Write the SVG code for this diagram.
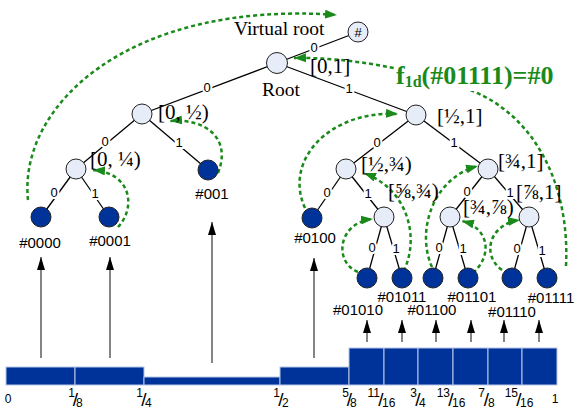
<svg xmlns="http://www.w3.org/2000/svg" width="578" height="414" viewBox="0 0 578 414">
<style>
.edge{stroke:#000;stroke-width:1.3;fill:none}
.inner{fill:#e6ecf8;stroke:#222;stroke-width:1}
.leaf{fill:#003399;stroke:#222;stroke-width:1}
.gc{fill:none;stroke:#1a8a1a;stroke-width:2.5;stroke-dasharray:4 3;marker-end:url(#ga)}
.up{stroke:#333;stroke-width:1.2;marker-end:url(#ah)}
.el{font-family:"Liberation Sans",Arial,sans-serif;font-size:13px;text-anchor:middle;fill:#000;stroke:#fff;stroke-width:4;paint-order:stroke}
.iv{font-family:"Liberation Serif","Times New Roman",serif;font-size:21px;fill:#000}
.tl{font-family:"Liberation Serif","Times New Roman",serif;font-size:19.5px;fill:#000}
.ll{font-family:"Liberation Sans",Arial,sans-serif;font-size:15px;text-anchor:middle;fill:#000}
.bar{fill:#003399;stroke:#b8c8e8;stroke-width:1}
.fr{font-family:"Liberation Sans",Arial,sans-serif;font-size:12px;fill:#000}
.sl{font-size:19px}
</style>
<defs>
<marker id="ah" markerUnits="userSpaceOnUse" markerWidth="13" markerHeight="8" refX="13" refY="4" orient="auto"><path d="M0,0 L13,4 L0,8 z" fill="#000"/></marker>
<marker id="ga" markerUnits="userSpaceOnUse" markerWidth="12" markerHeight="9" refX="12" refY="4.5" orient="auto"><path d="M0,0 L12,4.5 L0,9 z" fill="#1a8a1a"/></marker>
</defs>
<rect width="578" height="414" fill="#fff"/>

<g id="connectors">
<line class="edge" x1="277" y1="63" x2="358" y2="32"/>
<line class="edge" x1="277" y1="63" x2="142" y2="114"/>
<line class="edge" x1="277" y1="63" x2="416" y2="115"/>
<line class="edge" x1="142" y1="114" x2="76" y2="169"/>
<line class="edge" x1="142" y1="114" x2="208" y2="170"/>
<line class="edge" x1="76" y1="169" x2="41" y2="217"/>
<line class="edge" x1="76" y1="169" x2="109" y2="217"/>
<line class="edge" x1="416" y1="115" x2="346" y2="169"/>
<line class="edge" x1="416" y1="115" x2="488" y2="169"/>
<line class="edge" x1="346" y1="169" x2="312" y2="218"/>
<line class="edge" x1="346" y1="169" x2="384" y2="217"/>
<line class="edge" x1="488" y1="169" x2="450" y2="217"/>
<line class="edge" x1="488" y1="169" x2="529" y2="217"/>
<line class="edge" x1="384" y1="217" x2="367" y2="278"/>
<line class="edge" x1="384" y1="217" x2="402" y2="278"/>
<line class="edge" x1="450" y1="217" x2="433" y2="278"/>
<line class="edge" x1="450" y1="217" x2="468" y2="278"/>
<line class="edge" x1="529" y1="217" x2="512" y2="278"/>
<line class="edge" x1="529" y1="217" x2="547" y2="278"/>
<text class="el" x="314" y="52">0</text>
<text class="el" x="207" y="92">0</text>
<text class="el" x="349" y="93">1</text>
<text class="el" x="105" y="146">0</text>
<text class="el" x="179" y="147">1</text>
<text class="el" x="54" y="197">0</text>
<text class="el" x="95" y="198">1</text>
<text class="el" x="377" y="147">0</text>
<text class="el" x="454" y="147">1</text>
<text class="el" x="327" y="197">0</text>
<text class="el" x="368" y="198">1</text>
<text class="el" x="467" y="196">0</text>
<text class="el" x="510" y="197">1</text>
<text class="el" x="372" y="252">0</text>
<text class="el" x="396" y="253">1</text>
<text class="el" x="439" y="252">0</text>
<text class="el" x="463" y="253">1</text>
<text class="el" x="517" y="253">0</text>
<text class="el" x="542" y="255">1</text>
<line class="up" x1="41" y1="358" x2="41" y2="257"/>
<line class="up" x1="110" y1="358" x2="110" y2="257"/>
<line class="up" x1="212" y1="363" x2="212" y2="222"/>
<line class="up" x1="314" y1="358" x2="314" y2="258"/>
<line class="up" x1="367" y1="342" x2="367" y2="320"/>
<line class="up" x1="402" y1="342" x2="402" y2="320"/>
<line class="up" x1="436" y1="342" x2="436" y2="320"/>
<line class="up" x1="471" y1="342" x2="471" y2="320"/>
<line class="up" x1="504" y1="342" x2="504" y2="320"/>
<line class="up" x1="539" y1="342" x2="539" y2="320"/>
<path class="gc" d="M28,200 C18,105 130,0 337,15"/>
<path class="gc" d="M118,227 C136,208 132,173 93,170"/>
<path class="gc" d="M218,173 C232,138 205,118 170,121"/>
<path class="gc" d="M305,208 C283,160 330,110 398,114"/>
<path class="gc" d="M358,272 C333,262 338,222 373,219"/>
<path class="gc" d="M400,277 C420,248 414,192 364,173"/>
<path class="gc" d="M432,267 C416,232 432,178 478,166"/>
<path class="gc" d="M473,273 C493,255 489,228 462,221"/>
<path class="gc" d="M502,270 C481,255 489,224 520,220"/>
<path class="gc" d="M566,266 C570,185 535,115 470,90 C430,74 360,57 294,58"/>
</g>

<g id="f1d-label">
<rect x="394" y="60" width="164" height="31" fill="#fff"/>
<text x="396" y="84" font-family="Liberation Serif,'Times New Roman',serif" font-weight="bold" font-size="26" fill="#1a8a1a">f<tspan font-size="16" dy="3">1d</tspan><tspan dy="-3">(#01111)=#0</tspan></text>
</g>

<g id="vroot"><circle class="inner" cx="358" cy="32" r="10"/><text x="358" y="37" font-family="Liberation Sans,Arial,sans-serif" font-size="13" text-anchor="middle">#</text><text class="tl" x="234" y="35">Virtual root</text></g>
<g id="root"><circle class="inner" cx="277" cy="63" r="10.5"/><text class="tl" x="262" y="96">Root</text><text class="iv" x="310" y="73">[0,1]</text></g>
<g id="n0"><circle class="inner" cx="142" cy="114" r="10"/><text class="iv" x="158" y="119">[0, ½)</text></g>
<g id="n00"><circle class="inner" cx="76" cy="169" r="10"/><text class="iv" x="90" y="166">[0, ¼)</text></g>
<g id="l0000"><circle class="leaf" cx="41" cy="217" r="10"/><text class="ll" x="40" y="248">#0000</text></g>
<g id="l0001"><circle class="leaf" cx="109" cy="217" r="10"/><text class="ll" x="110" y="246">#0001</text></g>
<g id="l001"><circle class="leaf" cx="208" cy="170" r="10"/><text class="ll" x="212" y="199">#001</text></g>
<g id="n1"><circle class="inner" cx="416" cy="115" r="10"/><text class="iv" x="437" y="123">[½,1]</text></g>
<g id="n10"><circle class="inner" cx="346" cy="169" r="10"/><text class="iv" x="361" y="171">[½,¾)</text></g>
<g id="l0100"><circle class="leaf" cx="312" cy="218" r="10"/><text class="ll" x="315" y="243">#0100</text></g>
<g id="n101"><circle class="inner" cx="384" cy="217" r="10"/><text class="iv" x="388" y="198">[⅝,¾)</text></g>
<g id="n11"><circle class="inner" cx="488" cy="169" r="10"/><text class="iv" x="498" y="168">[¾,1]</text></g>
<g id="n110"><circle class="inner" cx="450" cy="217" r="10"/><text class="iv" x="463" y="214">[¾,⅞)</text></g>
<g id="n111"><circle class="inner" cx="529" cy="217" r="10"/><text class="iv" x="516" y="199">[⅞,1]</text></g>
<g id="l01010"><circle class="leaf" cx="367" cy="278" r="10"/><text class="ll" x="358" y="315">#01010</text></g>
<g id="l01011"><circle class="leaf" cx="402" cy="278" r="10"/><text class="ll" x="402" y="302">#01011</text></g>
<g id="l01100"><circle class="leaf" cx="433" cy="278" r="10"/><text class="ll" x="432" y="315">#01100</text></g>
<g id="l01101"><circle class="leaf" cx="468" cy="278" r="10"/><text class="ll" x="472" y="302">#01101</text></g>
<g id="l01110"><circle class="leaf" cx="512" cy="278" r="10"/><text class="ll" x="512" y="317">#01110</text></g>
<g id="l01111"><circle class="leaf" cx="547" cy="278" r="10"/><text class="ll" x="551" y="303">#01111</text></g>

<g id="bar">
<rect class="bar" x="6" y="367" width="69" height="18"/>
<rect class="bar" x="75" y="367" width="69" height="18"/>
<rect class="bar" x="144" y="377" width="136" height="8"/>
<rect class="bar" x="280" y="367" width="69" height="18"/>
<rect class="bar" x="349" y="348" width="35" height="37"/>
<rect class="bar" x="384" y="348" width="34" height="37"/>
<rect class="bar" x="418" y="348" width="35" height="37"/>
<rect class="bar" x="453" y="348" width="35" height="37"/>
<rect class="bar" x="488" y="348" width="34" height="37"/>
<rect class="bar" x="522" y="348" width="35" height="37"/>
</g>
<g id="axis">
<text class="fr" x="8" y="403" text-anchor="middle" font-size="13">0</text>
<text class="fr" x="555" y="403" text-anchor="middle" font-size="13">1</text>
<text class="fr"><tspan x="75" y="397" text-anchor="end">1</tspan><tspan class="sl" x="75.5" y="406" text-anchor="middle">/</tspan><tspan x="76" y="407">8</tspan></text>
<text class="fr"><tspan x="143" y="397" text-anchor="end">1</tspan><tspan class="sl" x="144" y="406" text-anchor="middle">/</tspan><tspan x="145" y="407">4</tspan></text>
<text class="fr"><tspan x="280" y="397" text-anchor="end">1</tspan><tspan class="sl" x="281" y="406" text-anchor="middle">/</tspan><tspan x="282" y="407">2</tspan></text>
<text class="fr"><tspan x="349" y="397" text-anchor="end">5</tspan><tspan class="sl" x="349.5" y="406" text-anchor="middle">/</tspan><tspan x="350" y="407">8</tspan></text>
<text class="fr"><tspan x="380" y="397" text-anchor="end">11</tspan><tspan class="sl" x="381" y="406" text-anchor="middle">/</tspan><tspan x="382" y="407">16</tspan></text>
<text class="fr"><tspan x="417" y="397" text-anchor="end">3</tspan><tspan class="sl" x="418" y="406" text-anchor="middle">/</tspan><tspan x="419" y="407">4</tspan></text>
<text class="fr"><tspan x="450" y="397" text-anchor="end">13</tspan><tspan class="sl" x="451" y="406" text-anchor="middle">/</tspan><tspan x="452" y="407">16</tspan></text>
<text class="fr"><tspan x="485" y="397" text-anchor="end">7</tspan><tspan class="sl" x="486.5" y="406" text-anchor="middle">/</tspan><tspan x="488" y="407">8</tspan></text>
<text class="fr"><tspan x="518" y="397" text-anchor="end">15</tspan><tspan class="sl" x="519" y="406" text-anchor="middle">/</tspan><tspan x="520" y="407">16</tspan></text>
</g>
</svg>
